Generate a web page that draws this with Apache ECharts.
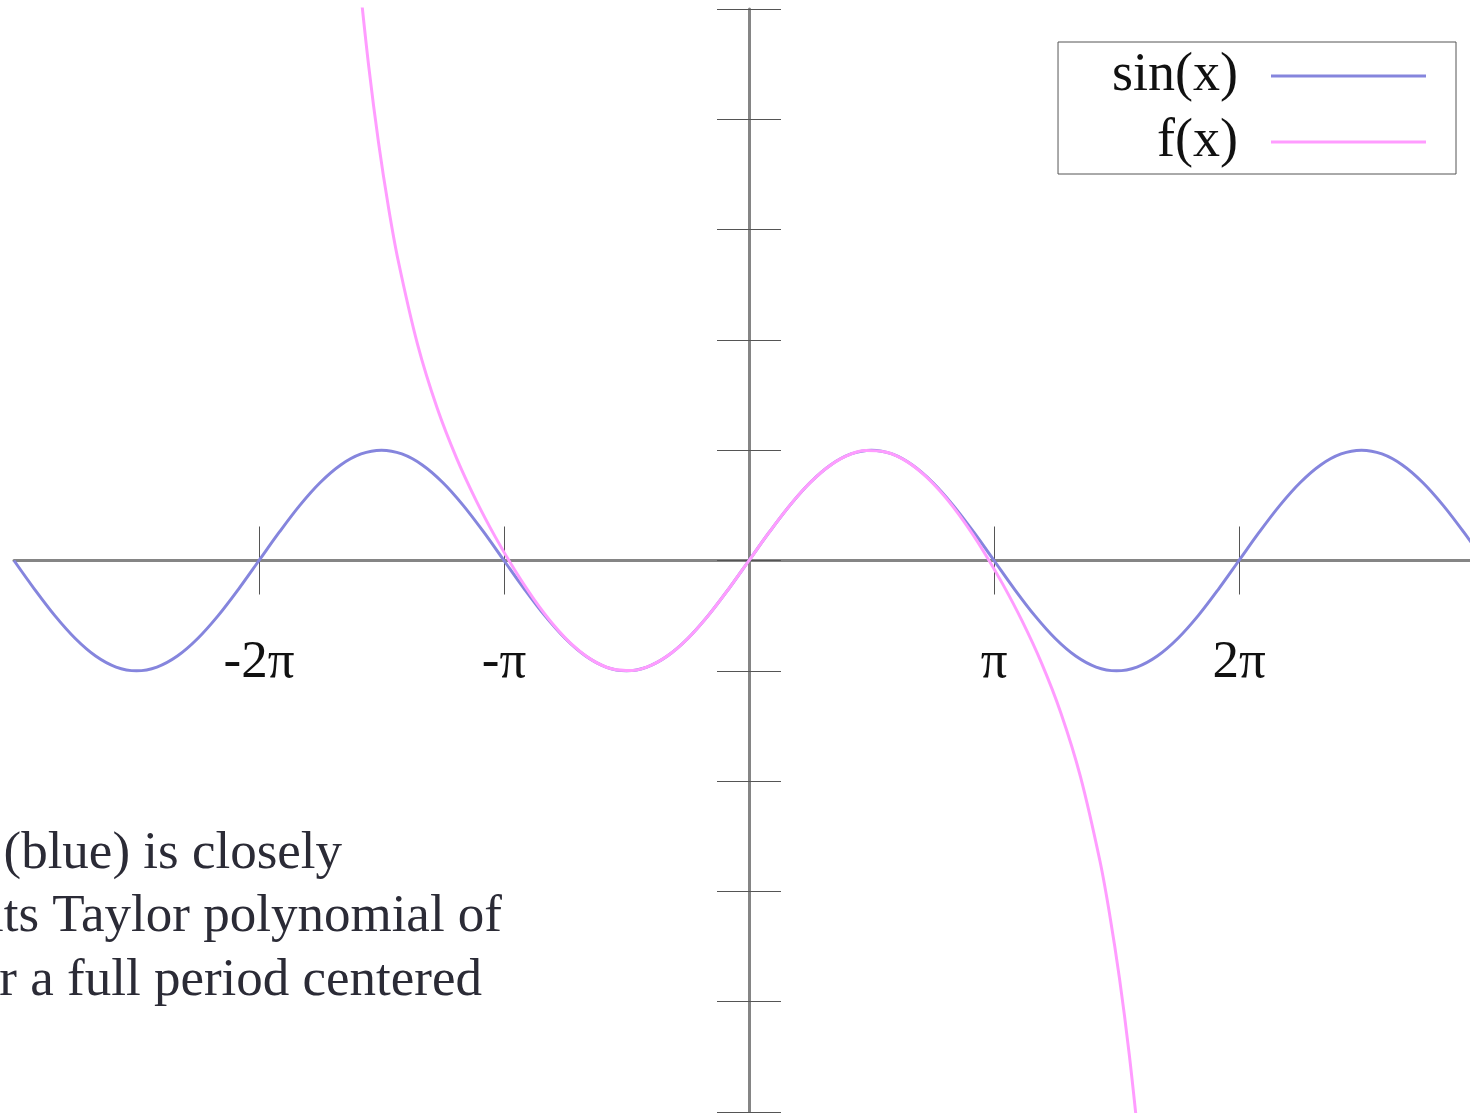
<!DOCTYPE html>
<html>
<head>
<meta charset="utf-8">
<script src="https://cdn.jsdelivr.net/npm/echarts@6/dist/echarts.min.js"></script>
<style>
  html, body { margin: 0; padding: 0; background: #ffffff; }
  #chart { width: 1470px; height: 1113px; }
</style>
</head>
<body>
<div id="chart"></div>
<script>
const PI = Math.PI;

// sin(x), sampled every pi/12 from -3pi to 3pi
const sineX = [
  -9.425, -9.163, -8.901, -8.639, -8.378, -8.116, -7.854, -7.592, -7.330, -7.069, -6.807, -6.545,
  -6.283, -6.021, -5.760, -5.498, -5.236, -4.974, -4.712, -4.451, -4.189, -3.927, -3.665, -3.403,
  -3.142, -2.880, -2.618, -2.356, -2.094, -1.833, -1.571, -1.309, -1.047, -0.785, -0.524, -0.262,
  0,
  0.262, 0.524, 0.785, 1.047, 1.309, 1.571, 1.833, 2.094, 2.356, 2.618, 2.880, 3.142,
  3.403, 3.665, 3.927, 4.189, 4.451, 4.712, 4.974, 5.236, 5.498, 5.760, 6.021, 6.283,
  6.545, 6.807, 7.069, 7.330, 7.592, 7.854, 8.116, 8.378, 8.639, 8.901, 9.163, 9.425
];
const sineY = [
  0, -0.2588, -0.5, -0.7071, -0.8660, -0.9659, -1, -0.9659, -0.8660, -0.7071, -0.5, -0.2588,
  0, 0.2588, 0.5, 0.7071, 0.8660, 0.9659, 1, 0.9659, 0.8660, 0.7071, 0.5, 0.2588,
  0, -0.2588, -0.5, -0.7071, -0.8660, -0.9659, -1, -0.9659, -0.8660, -0.7071, -0.5, -0.2588,
  0,
  0.2588, 0.5, 0.7071, 0.8660, 0.9659, 1, 0.9659, 0.8660, 0.7071, 0.5, 0.2588, 0,
  -0.2588, -0.5, -0.7071, -0.8660, -0.9659, -1, -0.9659, -0.8660, -0.7071, -0.5, -0.2588, 0,
  0.2588, 0.5, 0.7071, 0.8660, 0.9659, 1, 0.9659, 0.8660, 0.7071, 0.5, 0.2588, 0
];

// f(x): degree-7 Taylor polynomial of sin(x) about 0
const taylorX = [
  -5, -4.875, -4.75, -4.625, -4.5, -4.25, -4, -3.75, -3.5, -3.25, -3, -2.75, -2.5, -2.25,
  -2, -1.75, -1.5, -1.25, -1, -0.75, -0.5, -0.25,
  0,
  0.25, 0.5, 0.75, 1, 1.25, 1.5, 1.75, 2, 2.25, 2.5, 2.75, 3, 3.25, 3.5, 3.75, 4, 4.25,
  4.5, 4.625, 4.75, 4.875, 5
];
const taylorY = [
  5.2926, 4.4729, 3.7864, 3.2106, 2.7243, 1.9588, 1.3841, 0.9284, 0.5456, 0.2097, -0.0911, -0.3585, -0.5885, -0.7742,
  -0.9079, -0.9836, -0.9974, -0.9490, -0.8415, -0.6816, -0.4794, -0.2474,
  0,
  0.2474, 0.4794, 0.6816, 0.8415, 0.9490, 0.9974, 0.9836, 0.9079, 0.7742, 0.5885, 0.3585, 0.0911, -0.2097, -0.5456, -0.9284, -1.3841, -1.9588,
  -2.7243, -3.2106, -3.7864, -4.4729, -5.2926
];

const seriesNames = ['sin(x)', 'f(x)'];
const xTickValues = [-2 * PI, -PI, PI, 2 * PI];
const xTickLabels = ['-2π', '-π', 'π', '2π'];
const yTickInterval = 1;
const captionLines = ['(blue) is closely', 'its Taylor polynomial of', 'for a full period centered'];

// axis extents
const X_MIN = -3 * PI;
const X_MAX = 9.2451;
const Y_MIN = -5;
const Y_MAX = 5;

// plot area (pixels)
const GRID = { left: 14, right: 0, top: 9, bottom: 1 };
const PLOT_H = 1113 - GRID.top - GRID.bottom;
// distance from the bottom of the plot area up to the y = 0 line
const ZERO_LIFT = PLOT_H * (0 - Y_MIN) / (Y_MAX - Y_MIN);

const SERIF = "'Liberation Serif', 'Times New Roman', 'DejaVu Serif', serif";
const AXIS_GREY = '#858585';
const TICK_GREY = '#555555';
const BLUE = '#8585dd';
const PINK = '#ff9cff';
// Catmull-Rom-like tension for the sampled curves
const CURVE_SMOOTH = 0.34;

const zip = (xs, ys) => xs.map((x, i) => [x, ys[i]]);

function tickLabel(v) {
  for (let i = 0; i < xTickValues.length; i++) {
    if (Math.abs(xTickValues[i] - v) < 1e-6) return xTickLabels[i];
  }
  return '';
}

const baseX = {
  type: 'value',
  min: X_MIN,
  max: X_MAX,
  splitLine: { show: false },
  axisTick: {
    show: true,
    customValues: xTickValues,
    length: 34,
    lineStyle: { color: TICK_GREY, width: 1 }
  }
};

const baseY = {
  type: 'value',
  min: Y_MIN,
  max: Y_MAX,
  interval: yTickInterval,
  splitLine: { show: false },
  axisLabel: { show: false },
  axisLine: { onZero: true, lineStyle: { color: AXIS_GREY, width: 3 } },
  axisTick: { show: true, length: 32, lineStyle: { color: TICK_GREY, width: 1 } }
};

const chart = echarts.init(document.getElementById('chart'), null, { renderer: 'canvas' });

chart.setOption({
  animation: false,
  backgroundColor: '#ffffff',
  grid: Object.assign({ containLabel: false, outerBoundsMode: 'none' }, GRID),
  xAxis: [
    // horizontal axis line at y = 0, ticks pointing down, labels below
    Object.assign({}, baseX, {
      position: 'bottom',
      offset: -ZERO_LIFT,
      axisLine: { show: true, onZero: false, lineStyle: { color: AXIS_GREY, width: 3 } },
      axisLabel: {
        show: true,
        customValues: xTickValues,
        formatter: tickLabel,
        margin: 76,
        fontSize: 53,
        fontFamily: SERIF,
        color: '#111111'
      }
    }),
    // upper half of the x ticks
    Object.assign({}, baseX, {
      position: 'top',
      axisLine: { show: false, onZero: true },
      axisLabel: { show: false }
    })
  ],
  yAxis: [
    Object.assign({}, baseY, { position: 'left' }),
    Object.assign({}, baseY, {
      position: 'right',
      axisLine: { show: false, onZero: true }
    })
  ],
  legend: {
    orient: 'vertical',
    right: 14,
    top: 42,
    align: 'right',
    selectedMode: false,
    data: seriesNames.map(n => ({ name: n, icon: 'rect' })),
    itemWidth: 155,
    itemHeight: 3,
    itemGap: 6,
    padding: [4, 30, 2, 54],
    borderColor: '#555555',
    borderWidth: 1,
    textStyle: {
      fontSize: 54,
      fontFamily: SERIF,
      color: '#111111',
      lineHeight: 60,
      padding: [0, 28, 0, 0]
    }
  },
  series: [
    {
      name: seriesNames[0],
      type: 'line',
      xAxisIndex: 0,
      yAxisIndex: 0,
      data: zip(sineX, sineY),
      smooth: CURVE_SMOOTH,
      symbol: 'none',
      color: BLUE,
      lineStyle: { color: BLUE, width: 3 },
      z: 3
    },
    {
      name: seriesNames[1],
      type: 'line',
      xAxisIndex: 0,
      yAxisIndex: 0,
      data: zip(taylorX, taylorY),
      smooth: CURVE_SMOOTH,
      symbol: 'none',
      color: PINK,
      lineStyle: { color: PINK, width: 3 },
      clip: true,
      z: 4
    }
  ],
  graphic: captionLines.map((line, i) => ({
    type: 'text',
    x: [342, 502, 482][i],
    y: 854 + i * 63.5,
    style: {
      text: line,
      textAlign: 'right',
      align: 'right',
      textVerticalAlign: 'middle',
      verticalAlign: 'middle',
      fontSize: 53,
      fontFamily: SERIF,
      fill: '#2b2b36'
    }
  }))
});
</script>
</body>
</html>
